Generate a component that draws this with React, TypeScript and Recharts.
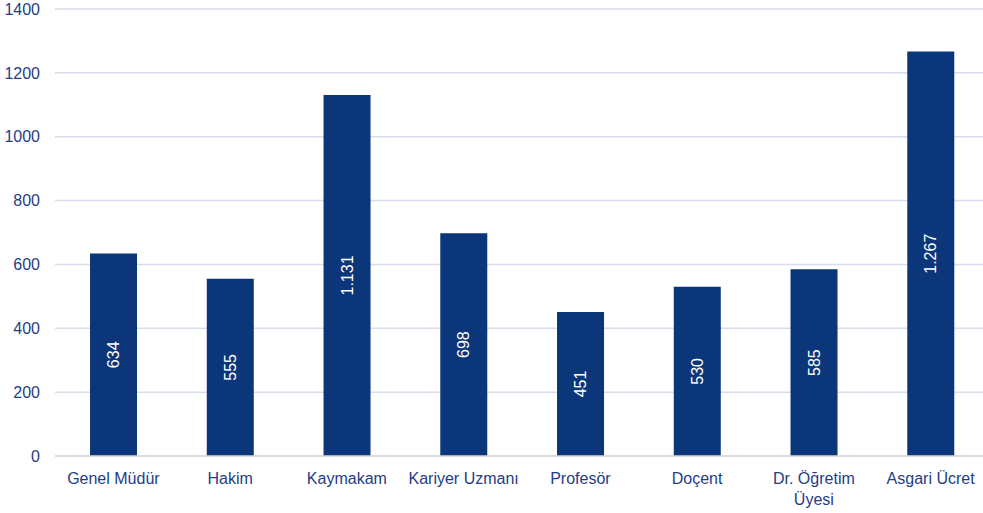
import React from 'react';
import { BarChart, Bar, XAxis, YAxis, CartesianGrid, LabelList } from 'recharts';

const categories = ['Genel Müdür', 'Hakim', 'Kaymakam', 'Kariyer Uzmanı', 'Profesör', 'Doçent', 'Dr. Öğretim Üyesi', 'Asgari Ücret'];
const values = [634, 555, 1131, 698, 451, 530, 585, 1267];
const yTicks = [0, 200, 400, 600, 800, 1000, 1200, 1400];

const data = categories.map((name, i) => ({ name, value: values[i] }));

const FONT = '"Liberation Sans", Arial, sans-serif';
const TEXT = '#1f3d85';

const fmt = (v: number) => v.toLocaleString('tr-TR');

function CategoryTick({ x, y, payload }: any) {
  const label: string = payload.value;
  const lines = label === 'Dr. Öğretim Üyesi' ? ['Dr. Öğretim', 'Üyesi'] : [label];
  return (
    <text x={x} y={y} textAnchor="middle" fill={TEXT} fontSize={16} fontFamily={FONT}>
      {lines.map((l, i) => (
        <tspan key={i} x={x} dy={i === 0 ? 20 : 21}>{l}</tspan>
      ))}
    </text>
  );
}

function InsideLabel({ x, y, width, height, value }: any) {
  const cx = x + width / 2;
  const cy = y + height / 2;
  return (
    <text
      x={cx}
      y={cy}
      fill="#ffffff"
      fontSize={16}
      fontFamily={FONT}
      textAnchor="middle"
      dominantBaseline="central"
      transform={`rotate(-90 ${cx} ${cy})`}
    >
      {fmt(value)}
    </text>
  );
}

export default function App() {
  return (
    <div style={{ position: 'absolute', left: 0, top: 0, width: 983, height: 513, overflow: 'hidden', background: '#fff' }}>
      <BarChart
        width={983}
        height={513}
        data={data}
        margin={{ top: 9, right: -6, left: 0, bottom: 0 }}
        barCategoryGap="30%"
      >
        <CartesianGrid vertical={false} stroke="#d9dceb" strokeWidth={1.5} />
        <XAxis
          dataKey="name"
          tick={<CategoryTick />}
          tickLine={false}
          axisLine={{ stroke: '#d9d9d9', strokeWidth: 1.5 }}
          interval={0}
          height={57}
        />
        <YAxis
          domain={[0, 1400]}
          ticks={yTicks}
          width={55}
          tickLine={false}
          axisLine={false}
          tickSize={0}
          tickMargin={15}
          tick={{ fill: TEXT, fontSize: 16, fontFamily: FONT }}
        />
        <Bar dataKey="value" fill="#0b3679" isAnimationActive={false}>
          <LabelList dataKey="value" content={<InsideLabel />} />
        </Bar>
      </BarChart>
    </div>
  );
}
